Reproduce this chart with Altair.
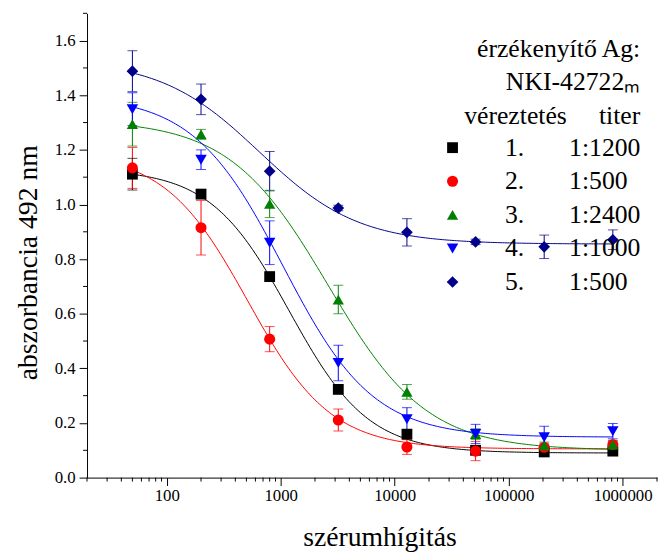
import altair as alt
import pandas as pd

# ---- data ----
dilution = [50, 200, 800, 3200, 12800, 51200, 204800, 819200]
bleed = ["1.", "2.", "3.", "4.", "5."]
titer = ["1:1200", "1:500", "1:2400", "1:1000", "1:500"]

abs_1 = [1.111, 1.038, 0.736, 0.323, 0.159, 0.100, 0.094, 0.097]
abs_2 = [1.134, 0.915, 0.507, 0.211, 0.112, 0.097, 0.111, 0.121]
abs_3 = [1.294, 1.257, 1.002, 0.652, 0.314, 0.159, 0.118, 0.121]
abs_4 = [1.349, 1.164, 0.860, 0.420, 0.214, 0.160, 0.148, 0.170]
abs_5 = [1.488, 1.385, 1.122, 0.987, 0.898, 0.863, 0.845, 0.871]

err_1 = [0.058, 0.010, 0.015, 0.015, 0.015, 0.010, 0.010, 0.008]
err_2 = [0.075, 0.100, 0.046, 0.040, 0.027, 0.035, 0.012, 0.012]
err_3 = [0.080, 0.018, 0.050, 0.052, 0.027, 0.020, 0.012, 0.015]
err_4 = [0.060, 0.036, 0.080, 0.065, 0.042, 0.035, 0.040, 0.028]
err_5 = [0.075, 0.056, 0.072, 0.010, 0.050, 0.010, 0.043, 0.036]

# logistic fit parameters (top, bottom, EC50, Hill slope)
fit_top = [1.13, 1.19, 1.31, 1.40, 1.53]
fit_bottom = [0.090, 0.105, 0.100, 0.148, 0.855]
fit_ec50 = [1188, 513, 2600, 1050, 650]
fit_hill = [1.25, 1.19, 1.00, 1.10, 1.00]

x_major = [100, 1000, 10000, 100000, 1000000]
x_minor = [20, 30, 40, 50, 60, 70, 80, 90,
           200, 300, 400, 500, 600, 700, 800, 900,
           2000, 3000, 4000, 5000, 6000, 7000, 8000, 9000,
           20000, 30000, 40000, 50000, 60000, 70000, 80000, 90000,
           200000, 300000, 400000, 500000, 600000, 700000, 800000, 900000,
           2000000]
y_major = [0.0, 0.2, 0.4, 0.6, 0.8, 1.0, 1.2, 1.4, 1.6]
y_minor = [0.1, 0.3, 0.5, 0.7, 0.9, 1.1, 1.3, 1.5, 1.7]

colors = ["#000000", "#FF0000", "#008000", "#0000FF", "#00008B"]
shapes = ["square", "circle", "triangle-up", "triangle-down", "diamond"]
sizes = [120, 140, 240, 240, 240]

NB = "\u00a0"
series = [f"{b}{NB * 7}{t}" for b, t in zip(bleed, titer)]

abs_all = [abs_1, abs_2, abs_3, abs_4, abs_5]
err_all = [err_1, err_2, err_3, err_4, err_5]
rows = []
for s, vals, errs in zip(series, abs_all, err_all):
    for x, v, e in zip(dilution, vals, errs):
        rows.append({"series": s, "x": x, "y": v, "lo": v - e, "hi": v + e})
pts = pd.DataFrame(rows)

fits = pd.DataFrame({"series": series, "top": fit_top, "bottom": fit_bottom,
                     "ec50": fit_ec50, "hill": fit_hill})

FONT = "Liberation Serif"
W, H = 577, 470

xscale = alt.Scale(type="log", domain=[20, 2000000], nice=False)
yscale = alt.Scale(domain=[0, 1.7], nice=False, zero=False)
cscale = alt.Scale(domain=series, range=colors)
sscale = alt.Scale(domain=series, range=shapes)
zscale = alt.Scale(domain=series, range=sizes)

legend = alt.Legend(
    title=["érzékenyítő Ag:", "NKI-42722ₘ", "véreztetés" + NB * 5 + "titer"],
    orient="none", legendX=357, legendY=23, padding=0,
    labelFont=FONT, labelFontSize=26, labelColor="black", labelOffset=40,
    labelLimit=400, titleFont=FONT, titleFontSize=26, titleFontWeight="normal",
    titleColor="black", titleLineHeight=34, titlePadding=6, titleLimit=400,
    titleAlign="right", titleAnchor="end",
    symbolSize=130, symbolStrokeWidth=0, symbolOpacity=1, rowPadding=8,
)

xaxis = alt.Axis(values=x_major, format="d", tickSize=8, tickColor="black",
                 domainColor="black", labelColor="black", labelFont=FONT,
                 labelFontSize=17, labelPadding=2, grid=False,
                 title="szérumhígitás", titleFont=FONT, titleFontSize=28,
                 titleFontWeight="normal", titleColor="black", titlePadding=21,
                 titleX=296)
yaxis = alt.Axis(values=y_major, format=".1f", tickSize=8, tickColor="black",
                 domainColor="black", labelColor="black", labelFont=FONT,
                 labelFontSize=17, labelPadding=4, grid=False,
                 title="abszorbancia 492 nm", titleFont=FONT, titleFontSize=28,
                 titleFontWeight="normal", titleColor="black", titlePadding=12,
                 titleY=252)


def X(field):
    return alt.X(field, scale=xscale, axis=xaxis)


def Y(field):
    return alt.Y(field, scale=yscale, axis=yaxis)


def C():
    return alt.Color("series:N", scale=cscale, legend=legend)


base = alt.Chart(pts)

lo_x, hi_x = min(dilution), max(dilution)
curves = alt.Chart(fits).transform_calculate(
    ts="sequence(0, 201)"
).transform_flatten(["ts"], as_=["t"]).transform_calculate(
    cx=f"pow(10, log({lo_x})/LN10 + datum.t/200*(log({hi_x})/LN10 - log({lo_x})/LN10))"
).transform_calculate(
    cy="datum.bottom + (datum.top - datum.bottom)/(1 + pow(datum.cx/datum.ec50, datum.hill))"
).mark_line(strokeWidth=1).encode(
    x=X("cx:Q"), y=Y("cy:Q"), color=C(),
)

bars = base.mark_rule(strokeWidth=1).encode(
    x=X("x:Q"), y=Y("lo:Q"), y2="hi:Q", color=C(),
)
caps_lo = base.mark_tick(orient="horizontal", size=10, thickness=1).encode(
    x=X("x:Q"), y=Y("lo:Q"), color=C(),
)
caps_hi = base.mark_tick(orient="horizontal", size=10, thickness=1).encode(
    x=X("x:Q"), y=Y("hi:Q"), color=C(),
)

points = base.mark_point(filled=True, opacity=1, strokeWidth=0).encode(
    x=X("x:Q"), y=Y("y:Q"), color=C(),
    shape=alt.Shape("series:N", scale=sscale, legend=legend),
    size=alt.Size("series:N", scale=zscale, legend=None),
)

xminor = alt.Chart(pd.DataFrame({"v": x_minor})).mark_rule(
    color="black", strokeWidth=1).encode(
    x=X("v:Q"), y=alt.value(H), y2=alt.value(H + 4),
)
yminor = alt.Chart(pd.DataFrame({"v": y_minor})).mark_rule(
    color="black", strokeWidth=1).encode(
    y=Y("v:Q"), x=alt.value(0), x2=alt.value(-4),
)

chart = alt.layer(curves, bars, caps_lo, caps_hi, points, xminor, yminor).properties(
    width=W, height=H,
    autosize=alt.AutoSizeParams(type="none"),
    padding={"left": 80, "top": 2, "right": 2, "bottom": 77},
).configure(font=FONT).configure_view(stroke=None).configure_axis(
    labelFont=FONT, titleFont=FONT, labelFontSize=17, titleFontSize=28,
    titleFontWeight="normal", labelColor="black", titleColor="black",
).configure_legend(labelFont=FONT, titleFont=FONT)

chart.save("out.html", embed_options={"renderer": "svg", "actions": False})
